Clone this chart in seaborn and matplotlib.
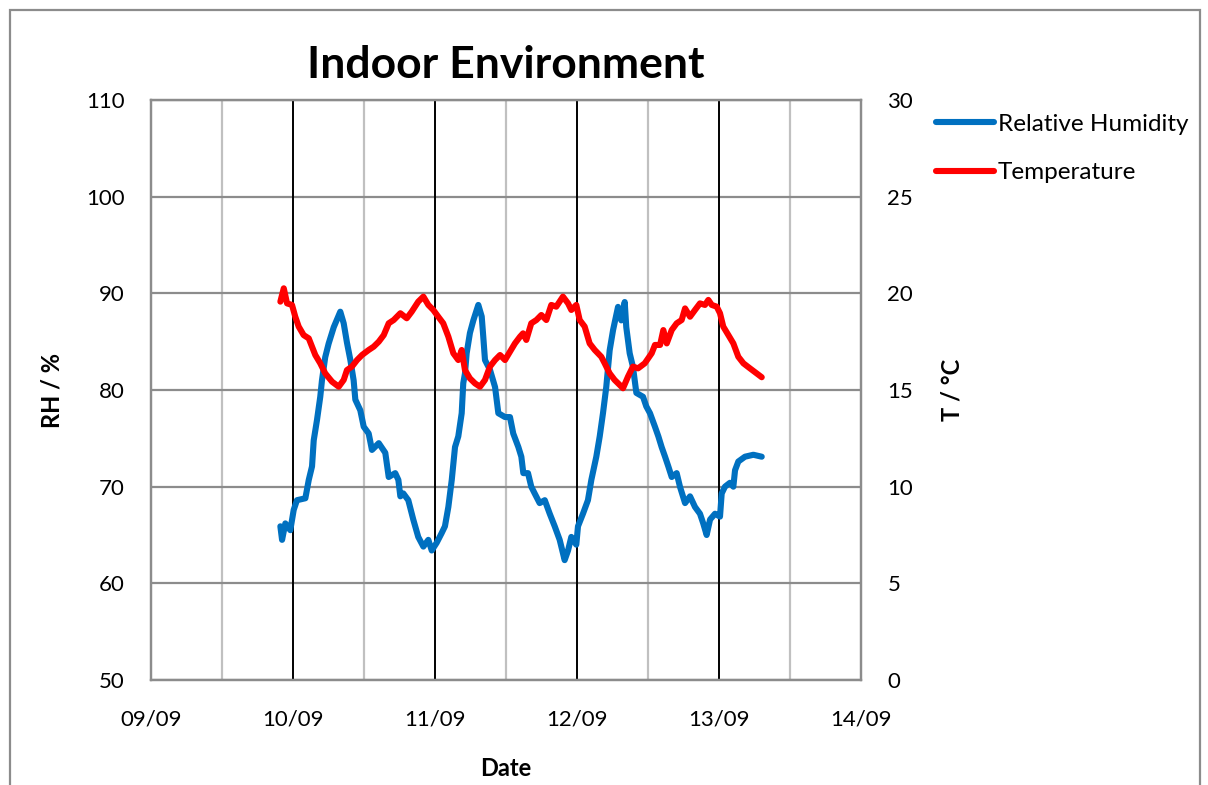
import numpy as np
import pandas as pd
import matplotlib
matplotlib.use("Agg")
import matplotlib.pyplot as plt
import matplotlib.dates as mdates
from matplotlib.patches import Rectangle
import seaborn as sns

# Logger readings, time given in days after 09/09 00:00
rh_days = [0.911, 0.923, 0.946, 0.981, 1.005, 1.028, 1.087, 1.111, 1.134, 1.146,
           1.169, 1.192, 1.204, 1.227, 1.251, 1.287, 1.333, 1.357, 1.380, 1.404,
           1.427, 1.439, 1.474, 1.498, 1.533, 1.556, 1.604, 1.650, 1.674, 1.720,
           1.742, 1.756, 1.777, 1.812, 1.847, 1.882, 1.918, 1.953, 1.977, 2.012,
           2.047, 2.070, 2.094, 2.118, 2.141, 2.164, 2.188, 2.199, 2.211, 2.223,
           2.246, 2.270, 2.305, 2.329, 2.340, 2.352, 2.387, 2.423, 2.446, 2.493,
           2.528, 2.551, 2.587, 2.608, 2.622, 2.655, 2.678, 2.702, 2.737, 2.773,
           2.808, 2.843, 2.878, 2.913, 2.937, 2.960, 2.995, 3.007, 3.042, 3.077,
           3.101, 3.136, 3.160, 3.183, 3.206, 3.230, 3.254, 3.289, 3.312, 3.336,
           3.347, 3.371, 3.394, 3.418, 3.465, 3.488, 3.514, 3.549, 3.573, 3.596,
           3.620, 3.643, 3.667, 3.702, 3.725, 3.761, 3.796, 3.831, 3.866, 3.889,
           3.913, 3.937, 3.972, 4.007, 4.019, 4.042, 4.077, 4.101, 4.113, 4.136,
           4.183, 4.242, 4.301]
rh_values = [65.9, 64.5, 66.2, 65.5, 67.6, 68.6, 68.8, 70.7, 72.1, 74.8,
             76.9, 79.3, 81.0, 83.4, 84.8, 86.5, 88.1, 86.9, 84.9, 83.1,
             81.0, 79.0, 77.9, 76.2, 75.5, 73.8, 74.5, 73.5, 71.0, 71.4,
             70.7, 69.0, 69.3, 68.6, 66.6, 64.8, 63.8, 64.5, 63.4, 64.2,
             65.2, 65.9, 67.9, 70.7, 74.1, 75.2, 77.6, 80.7, 81.7, 83.8,
             85.9, 87.2, 88.8, 87.6, 85.5, 83.1, 82.1, 80.3, 77.6, 77.2,
             77.2, 75.5, 74.1, 73.1, 71.4, 71.4, 70.0, 69.3, 68.3, 68.6,
             67.2, 65.9, 64.5, 62.4, 63.4, 64.8, 64.0, 65.9, 67.2, 68.6,
             70.7, 73.1, 75.2, 77.6, 80.3, 84.1, 86.2, 88.6, 87.2, 89.1,
             86.5, 83.8, 82.4, 79.7, 79.3, 78.3, 77.6, 76.2, 75.2, 74.1,
             73.1, 72.1, 71.0, 71.4, 70.0, 68.3, 69.0, 67.9, 67.2, 66.2,
             65.0, 66.6, 67.2, 66.9, 69.3, 70.0, 70.4, 70.0, 71.7, 72.6,
             73.1, 73.3, 73.1]

t_days = [0.911, 0.935, 0.958, 0.993, 1.016, 1.040, 1.075, 1.111, 1.134, 1.157,
          1.192, 1.227, 1.275, 1.322, 1.357, 1.380, 1.415, 1.451, 1.486, 1.533,
          1.568, 1.604, 1.639, 1.674, 1.709, 1.756, 1.801, 1.836, 1.882, 1.918,
          1.953, 1.988, 2.023, 2.058, 2.094, 2.129, 2.164, 2.188, 2.211, 2.246,
          2.282, 2.317, 2.352, 2.387, 2.423, 2.458, 2.493, 2.528, 2.563, 2.599,
          2.620, 2.643, 2.678, 2.714, 2.749, 2.784, 2.819, 2.854, 2.901, 2.937,
          2.960, 2.995, 3.019, 3.054, 3.089, 3.125, 3.171, 3.195, 3.230, 3.265,
          3.301, 3.324, 3.359, 3.394, 3.430, 3.477, 3.526, 3.549, 3.585, 3.608,
          3.632, 3.667, 3.702, 3.737, 3.761, 3.796, 3.831, 3.866, 3.901, 3.925,
          3.949, 3.984, 4.007, 4.030, 4.066, 4.101, 4.136, 4.172, 4.218, 4.265,
          4.301]
t_values = [19.57, 20.26, 19.48, 19.40, 18.79, 18.28, 17.84, 17.67, 17.24, 16.81,
            16.38, 15.86, 15.43, 15.17, 15.52, 16.03, 16.21, 16.55, 16.81, 17.07,
            17.24, 17.50, 17.84, 18.45, 18.62, 18.97, 18.71, 19.05, 19.57, 19.83,
            19.40, 19.14, 18.79, 18.45, 17.76, 16.90, 16.55, 17.07, 16.03, 15.60,
            15.34, 15.17, 15.52, 16.21, 16.55, 16.81, 16.55, 16.98, 17.41, 17.76,
            17.93, 17.59, 18.45, 18.62, 18.88, 18.62, 19.40, 19.31, 19.83, 19.48,
            19.14, 19.40, 18.62, 18.28, 17.41, 17.07, 16.72, 16.38, 15.86, 15.52,
            15.26, 15.09, 15.69, 16.21, 16.12, 16.38, 16.90, 17.33, 17.33, 18.10,
            17.41, 18.10, 18.45, 18.62, 19.22, 18.79, 19.14, 19.48, 19.40, 19.66,
            19.40, 19.31, 18.97, 18.28, 17.84, 17.41, 16.72, 16.38, 16.12, 15.86,
            15.66]

rh_ticks = [50, 60, 70, 80, 90, 100, 110]
t_ticks = [0, 5, 10, 15, 20, 25, 30]

start = pd.Timestamp("2014-09-09")
rh_df = pd.DataFrame({"time": start + pd.to_timedelta(rh_days, unit="D"),
                      "rh": rh_values})
t_df = pd.DataFrame({"time": start + pd.to_timedelta(t_days, unit="D"),
                     "t": t_values})

sns.set_theme(style="white", rc={"text.color": "black",
                                 "axes.labelcolor": "black",
                                 "xtick.color": "black",
                                 "ytick.color": "black"})
plt.rcParams["font.family"] = ["Lato", "DejaVu Sans"]

blue = "#0070C0"
red = "#FF0000"
grid_dark = "#8C8C8C"
grid_light = "#C0C0C0"

fig = plt.figure(figsize=(12.08, 7.85), dpi=100)
ax = fig.add_axes([151 / 1208, 1 - 680 / 785, 710 / 1208, 580 / 785])
ax2 = ax.twinx()

sns.lineplot(data=rh_df, x="time", y="rh", ax=ax, color=blue, linewidth=4.4,
             estimator=None, label="Relative Humidity", legend=False)
sns.lineplot(data=t_df, x="time", y="t", ax=ax2, color=red, linewidth=4.4,
             estimator=None, label="Temperature", legend=False)

x0, x1 = start, start + pd.Timedelta(days=5)
ax.set_xlim(x0, x1)
ax.set_ylim(rh_ticks[0], rh_ticks[-1])
ax2.set_ylim(t_ticks[0], t_ticks[-1])
ax.set_yticks(rh_ticks)
ax2.set_yticks(t_ticks)

ax.xaxis.set_major_locator(mdates.DayLocator())
ax.xaxis.set_major_formatter(mdates.DateFormatter("%d/%m"))
ax.xaxis.set_minor_locator(mdates.HourLocator(byhour=[12]))

# grid: dark horizontals, light half-day verticals, black midnights
ax.set_axisbelow(True)
ax.yaxis.grid(True, color=grid_dark, linewidth=1.6)
ax.xaxis.grid(True, which="minor", color=grid_light, linewidth=1.6)
for d in range(1, 5):
    ax.axvline(start + pd.Timedelta(days=d), color="black", linewidth=1.4,
               zorder=1.6)

for a in (ax, ax2):
    for s in a.spines.values():
        s.set_color(grid_dark)
        s.set_linewidth(1.6)
    a.tick_params(length=0, which="both", labelsize=16, colors="black")
ax.tick_params(axis="y", pad=19)
ax2.tick_params(axis="y", pad=19)
ax.tick_params(axis="x", pad=21)

ax.set_xlabel("Date", fontsize=17, fontweight="bold", labelpad=20)
ax.set_ylabel("RH / %", fontsize=17, fontweight="bold", labelpad=16)
ax2.set_ylabel("T / °C", fontsize=17, fontweight="bold", labelpad=20)
ax.set_title("Indoor Environment", fontsize=32, fontweight="bold", pad=16,
             color="black")

handles = ax.get_lines()[:1] + ax2.get_lines()[:1]
fig.legend(handles, ["Relative Humidity", "Temperature"],
           loc="upper left", bbox_to_anchor=(914 / 1208, 1 - 92 / 785),
           frameon=False, fontsize=17.5, handlelength=2.4, handletextpad=0.15,
           labelspacing=1.12)

# outer chart frame
fig.patches.append(Rectangle((10 / 1208, -0.05), 1190 / 1208, 1.05 - 10 / 785,
                             transform=fig.transFigure, fill=False,
                             edgecolor=grid_dark, linewidth=1.6))

fig.savefig("out.png", dpi=100)
